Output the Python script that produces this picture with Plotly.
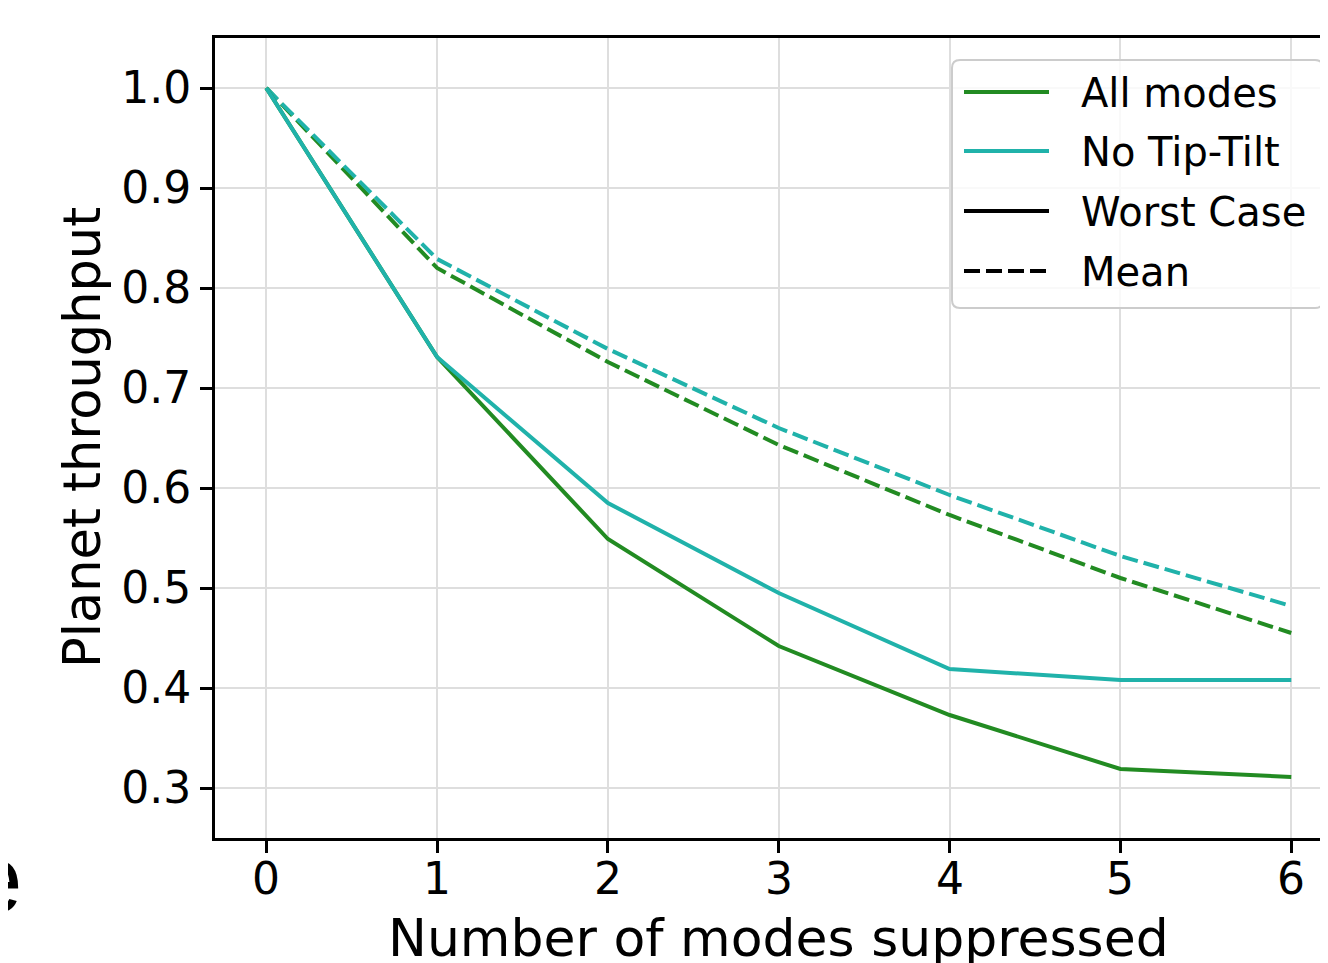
import plotly.graph_objects as go

modes = [0, 1, 2, 3, 4, 5, 6]
all_worst = [1.0, 0.731, 0.549, 0.442, 0.373, 0.319, 0.311]
nott_worst = [1.0, 0.731, 0.585, 0.495, 0.419, 0.408, 0.408]
all_mean = [1.0, 0.820, 0.726, 0.643, 0.573, 0.510, 0.455]
nott_mean = [1.0, 0.829, 0.739, 0.660, 0.593, 0.532, 0.482]

x_ticks = [0, 1, 2, 3, 4, 5, 6]
x_ticklabels = ["0", "1", "2", "3", "4", "5", "6"]
y_ticks = [0.3, 0.4, 0.5, 0.6, 0.7, 0.8, 0.9, 1.0]
y_ticklabels = ["0.3", "0.4", "0.5", "0.6", "0.7", "0.8", "0.9", "1.0"]

legend_names = ["All modes", "No Tip-Tilt", "Worst Case", "Mean"]

GREEN = "#228B22"
CYAN = "#20B2AA"
DASH = "16px,6px"
legend_colors = [GREEN, CYAN, "black", "black"]
legend_dash = ["solid", "solid", "solid", DASH]

OFF = 8  # page body margin
W, H = 1328 - OFF, 963 - OFF
ML, MT, MB, MR = 215 - OFF, 38 - OFF, 963 - 838, 0
PW = W - ML - MR
PH = H - MT - MB
FONT = "DejaVu Sans"
LW = 4

fig = go.Figure()
series = [
    (all_mean, GREEN, DASH),
    (nott_mean, CYAN, DASH),
    (all_worst, GREEN, "solid"),
    (nott_worst, CYAN, "solid"),
]
for ys, col, d in series:
    fig.add_trace(go.Scatter(x=modes, y=ys, mode="lines",
                             line=dict(color=col, width=LW, dash=d),
                             showlegend=False, hoverinfo="skip"))

def px(xp):
    return (xp - OFF - ML) / PW

def py(yp):
    return (H - MB - (yp - OFF)) / PH

shapes = []
annotations = []

# legend box with rounded corners (reference pixels -> paper)
bx0, bx1, by0, by1, r = 952, 1323, 60, 308, 8
rx = r / PW
ry = r / PH
X0, X1, Y0, Y1 = px(bx0), px(bx1), py(by1), py(by0)
path = (f"M{X0+rx},{Y0} L{X1-rx},{Y0} Q{X1},{Y0} {X1},{Y0+ry} "
        f"L{X1},{Y1-ry} Q{X1},{Y1} {X1-rx},{Y1} L{X0+rx},{Y1} "
        f"Q{X0},{Y1} {X0},{Y1-ry} L{X0},{Y0+ry} Q{X0},{Y0} {X0+rx},{Y0} Z")
shapes.append(dict(type="path", xref="paper", yref="paper", path=path,
                   fillcolor="rgba(255,255,255,0.8)",
                   line=dict(color="#cccccc", width=2), layer="above"))

row_y = [92, 151, 211, 271]
for name, col, d, yy in zip(legend_names, legend_colors, legend_dash, row_y):
    shapes.append(dict(type="line", xref="paper", yref="paper",
                       x0=px(964), x1=px(1049), y0=py(yy), y1=py(yy),
                       line=dict(color=col, width=LW, dash=d), layer="above"))
    annotations.append(dict(xref="paper", yref="paper", x=px(1079), y=py(yy + 1),
                            text=name, showarrow=False, xanchor="left",
                            yanchor="middle",
                            font=dict(family=FONT, size=40, color="black")))

# x tick labels (placed as text so they sit as close to the ticks as in the reference)
for xv, lab in zip(x_ticks, x_ticklabels):
    annotations.append(dict(xref="x", yref="paper", x=xv, y=py(878), text=lab,
                            showarrow=False, xanchor="center", yanchor="middle",
                            font=dict(family=FONT, size=44, color="black")))

# axis titles
annotations.append(dict(xref="x", yref="paper", x=3, y=py(938), text="Number of modes suppressed",
                        showarrow=False, xanchor="center", yanchor="middle",
                        font=dict(family=FONT, size=52, color="black")))
annotations.append(dict(xref="paper", yref="paper", x=px(82), y=py(438), text="Planet throughput",
                        showarrow=False, xanchor="center", yanchor="middle", textangle=-90,
                        font=dict(family=FONT, size=51, color="black")))
# cropped fragment at left edge
annotations.append(dict(xref="paper", yref="paper", x=px(24), y=py(878), text="e",
                        showarrow=False, xanchor="right", yanchor="middle",
                        font=dict(family="Liberation Sans", size=96, color="black")))

fig.update_layout(
    width=W, height=H,
    margin=dict(l=ML, r=MR, t=MT, b=MB, pad=0),
    paper_bgcolor="white", plot_bgcolor="white",
    font=dict(family=FONT, color="black"),
    shapes=shapes, annotations=annotations,
    showlegend=False,
)
fig.update_xaxes(range=[-0.3, 6.215], tickvals=x_ticks, showticklabels=False,
                 showgrid=True, gridcolor="#dedede", gridwidth=2,
                 showline=True, linecolor="black", linewidth=3, mirror=True,
                 ticks="outside", ticklen=12, tickwidth=3, tickcolor="black",
                 zeroline=False)
fig.update_yaxes(range=[0.25, 1.05], tickvals=y_ticks, ticktext=y_ticklabels,
                 showgrid=True, gridcolor="#dedede", gridwidth=2,
                 showline=True, linecolor="black", linewidth=3, mirror=False,
                 ticks="outside", ticklen=12, tickwidth=3, tickcolor="black",
                 tickfont=dict(family=FONT, size=44, color="black"),
                 zeroline=False)

fig.write_html("out.html")
